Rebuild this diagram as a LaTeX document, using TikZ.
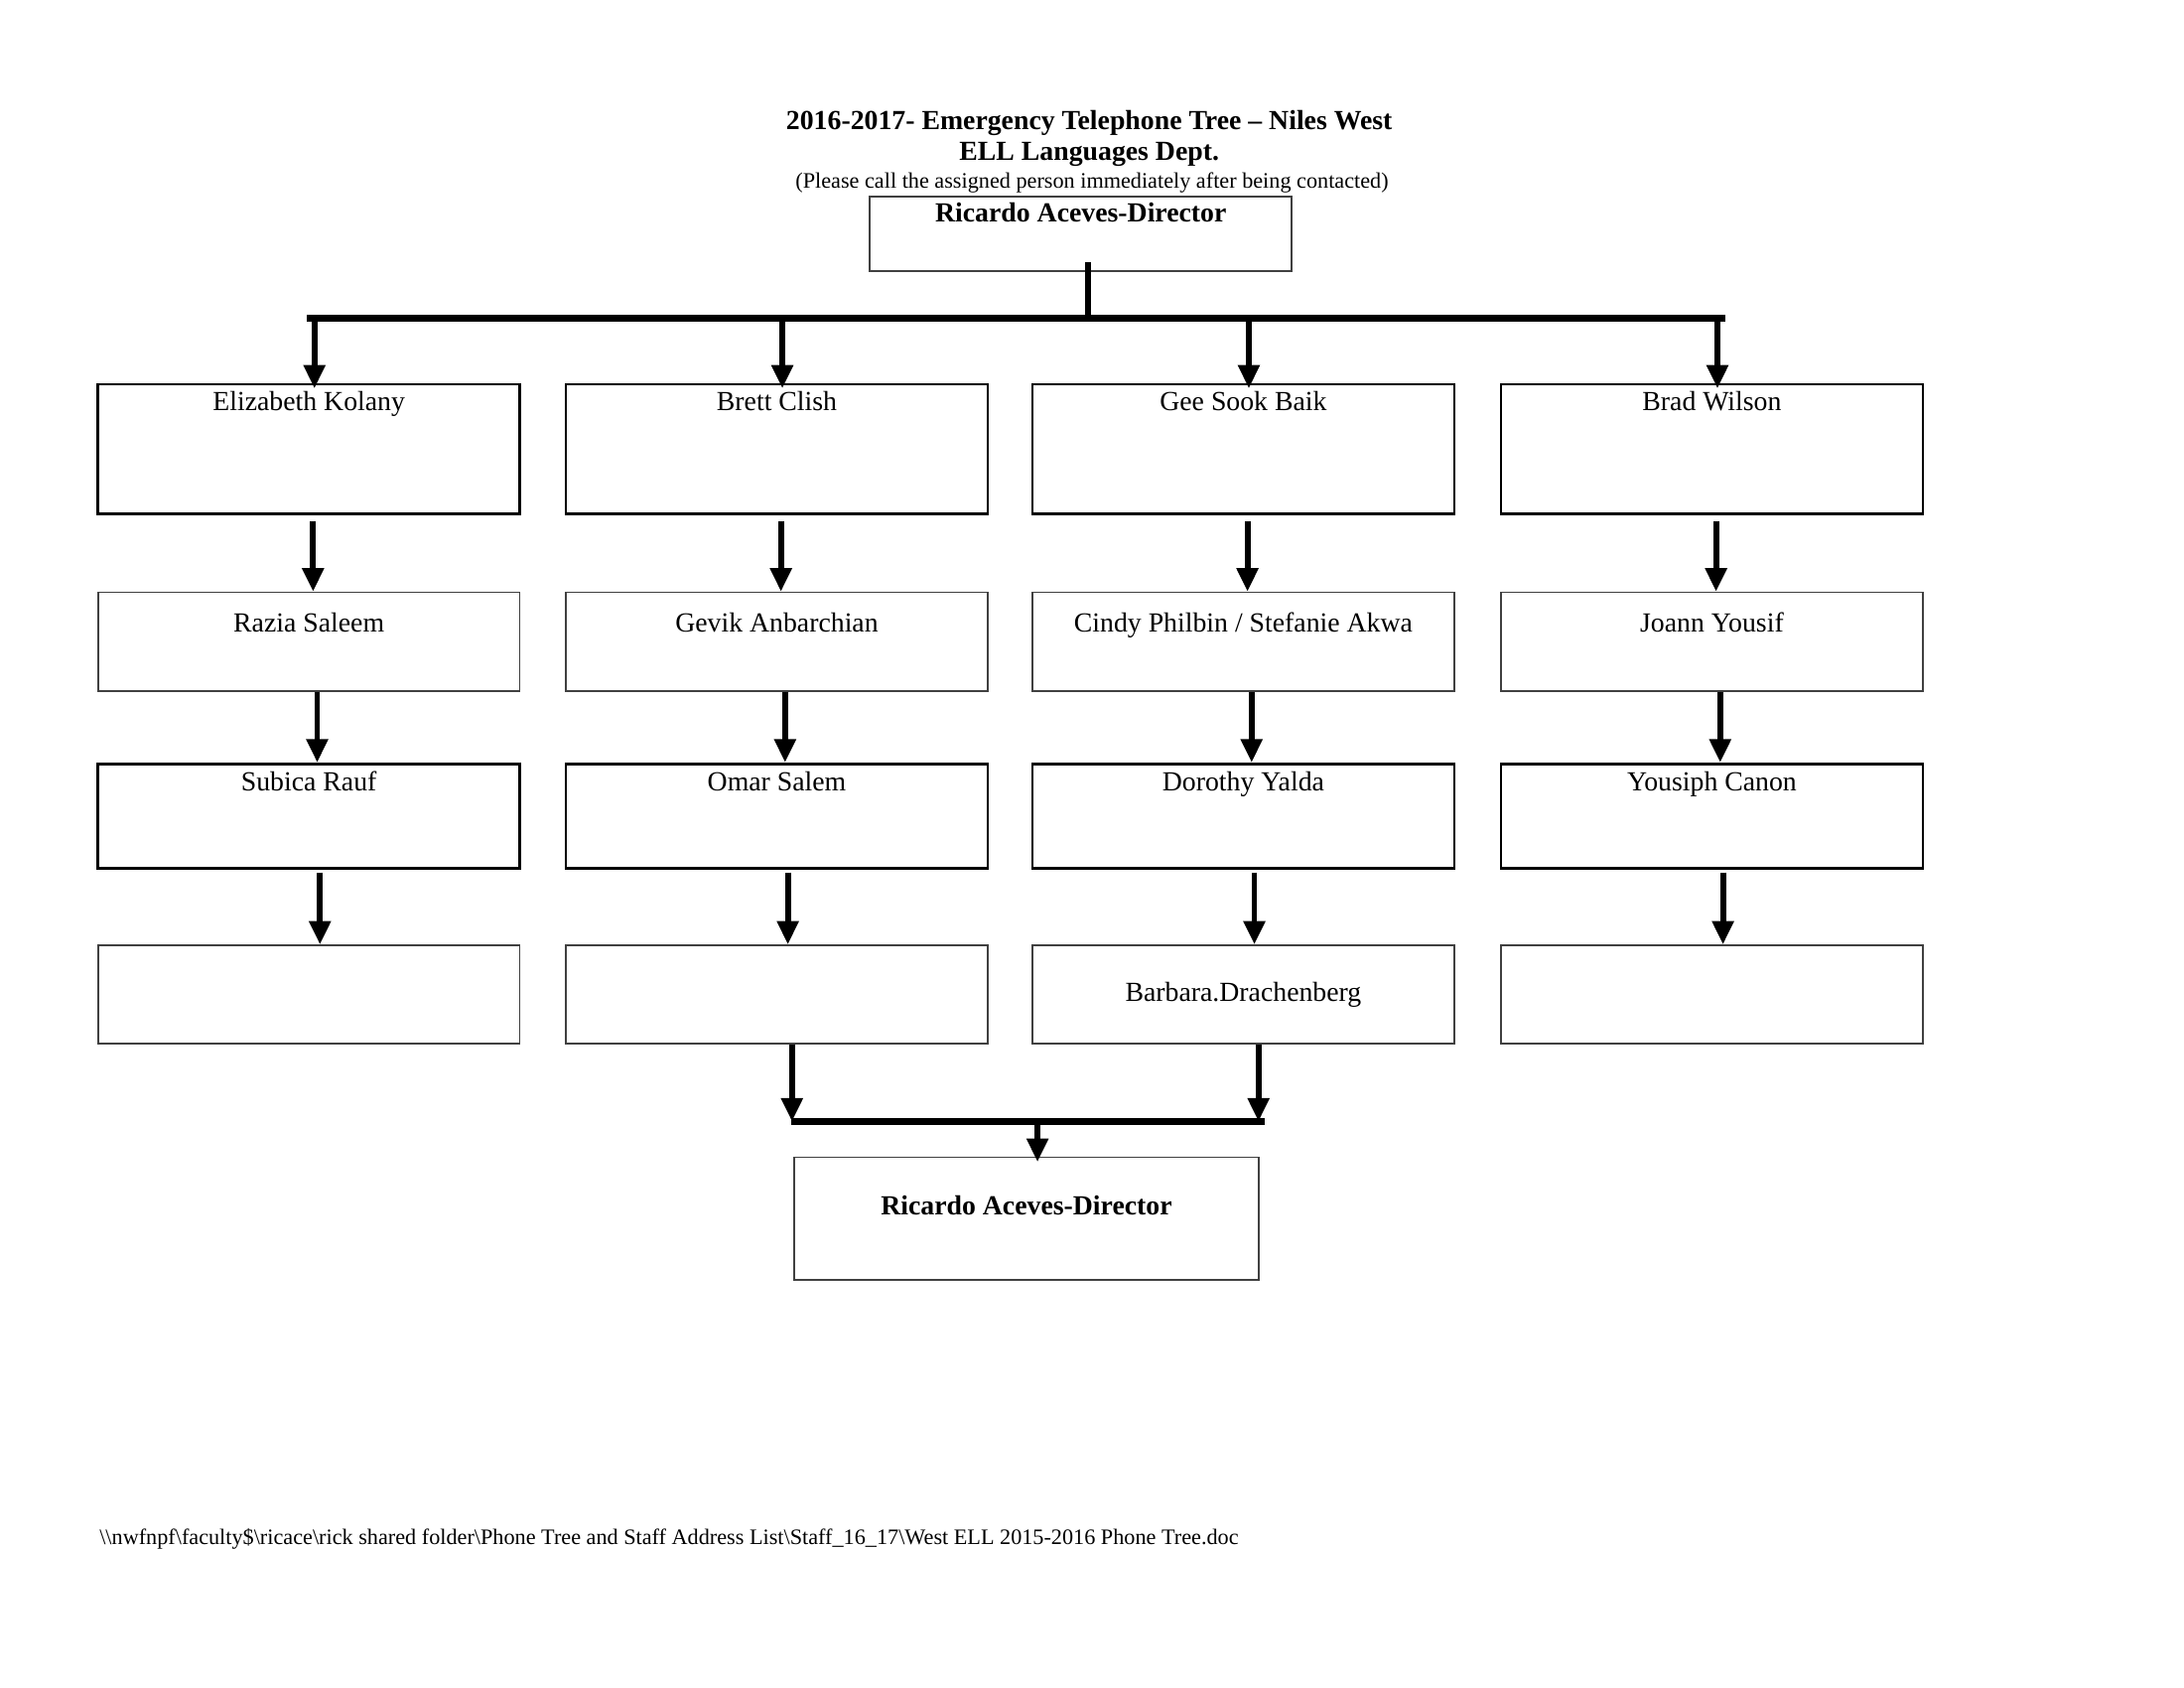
\documentclass[tikz,border=0pt]{standalone}
\usepackage{fontspec}
\setmainfont{Liberation Serif}
\usepackage{tikz}
\usetikzlibrary{arrows.meta}
\tikzset{
  box/.style = {draw, line width=1pt, minimum width=153pt, inner sep=0, font=\fontsize{10}{12}\selectfont},
  thinbox/.style = {draw=black!75, line width=0.6pt, minimum width=153pt, inner sep=0, font=\fontsize{10}{12}\selectfont},
  nametext/.style = {anchor=north, inner sep=3pt, font=\fontsize{10}{12}\selectfont},
  arr/.style = {-{Triangle[width=7.5pt,length=8.5pt]}, line width=2.1pt},
  bus/.style = {line width=2.3pt}
}

\begin{document}
\begin{tikzpicture}[x=0.5058pt, y=-0.5058pt]
    \useasboundingbox (0, 0) rectangle (1566, 1210);

    % heading
    \node [font=\fontsize{10}{12}\selectfont\bfseries] (title) at (781, 88) {2016-2017- Emergency Telephone Tree -- Niles West};
    \node [font=\fontsize{10}{12}\selectfont\bfseries] (dept) at (781, 111) {ELL Languages Dept.};
    \node [font=\fontsize{8}{10}\selectfont] (note) at (783, 131) {(Please call the assigned person immediately after being contacted)};

    \node [thinbox, minimum height=27pt, label={[nametext, inner sep=2.5pt, font=\fontsize{10}{12}\selectfont\bfseries]north:Ricardo Aceves-Director}] (dir) at (775, 167.5) {};

    % first row
    \node [box, minimum height=47pt, label={[nametext]north:Elizabeth Kolany}] (a1) at (221.5, 322) {};
    \node [box, minimum height=47pt, label={[nametext]north:Brett Clish}] (b1) at (557, 322) {};
    \node [box, minimum height=47pt, label={[nametext]north:Gee Sook Baik}] (c1) at (891.5, 322) {};
    \node [box, minimum height=47pt, label={[nametext]north:Brad Wilson}] (d1) at (1227.5, 322) {};

    % second row
    \node [thinbox, minimum height=35.7pt, label={[nametext, inner sep=7.5pt]north:Razia Saleem}] (a2) at (221.5, 460) {};
    \node [thinbox, minimum height=35.7pt, label={[nametext, inner sep=7.5pt]north:Gevik Anbarchian}] (b2) at (557, 460) {};
    \node [thinbox, minimum height=35.7pt, label={[nametext, inner sep=7.5pt]north:Cindy Philbin / Stefanie Akwa}] (c2) at (891.5, 460) {};
    \node [thinbox, minimum height=35.7pt, label={[nametext, inner sep=7.5pt]north:Joann Yousif}] (d2) at (1227.5, 460) {};

    % third row
    \node [box, minimum height=37.8pt, label={[nametext]north:Subica Rauf}] (a3) at (221.5, 585) {};
    \node [box, minimum height=37.8pt, label={[nametext]north:Omar Salem}] (b3) at (557, 585) {};
    \node [box, minimum height=37.8pt, label={[nametext]north:Dorothy Yalda}] (c3) at (891.5, 585) {};
    \node [box, minimum height=37.8pt, label={[nametext]north:Yousiph Canon}] (d3) at (1227.5, 585) {};

    % fourth row
    \node [thinbox, minimum height=35.7pt] (a4) at (221.5, 713) {};
    \node [thinbox, minimum height=35.7pt] (b4) at (557, 713) {};
    \node [thinbox, minimum height=35.7pt] (c4) at (891.5, 713) {Barbara.Drachenberg};
    \node [thinbox, minimum height=35.7pt] (d4) at (1227.5, 713) {};

    \node [thinbox, minimum width=168.4pt, minimum height=44.4pt, label={[nametext, inner sep=14pt, font=\fontsize{10}{12}\selectfont\bfseries]north:Ricardo Aceves-Director}] (back) at (736, 873.5) {};

    % top bus
    \coordinate (topL) at (220, 228);
    \coordinate (topR) at (1237, 228);
    \draw [bus] (topL) -- (topR);
    \draw [bus] ([xshift=2.5pt, yshift=3.5pt]dir.south) -- ([xshift=2.5pt]dir.south |- topL);
    \foreach \c in {a, b, c, d}
      \draw [arr] ([xshift=2pt]\c1.north |- topL) -- ([xshift=2pt, yshift=-2pt]\c1.north);

    % down the columns
    \foreach \c in {a, b, c, d} {
      \draw [arr] ([xshift=1.5pt, yshift=-2pt]\c1.south) -- ([xshift=1.5pt]\c2.north);
      \draw [arr] ([xshift=3pt]\c2.south) -- ([xshift=3pt]\c3.north);
      \draw [arr] ([xshift=4pt, yshift=-1pt]\c3.south) -- ([xshift=4pt]\c4.north);
    }

    % back to the director
    \coordinate (botL) at (567, 804);
    \coordinate (botR) at (907, 804);
    \draw [arr] ([xshift=5.5pt]b4.south) -- ([xshift=5.5pt]b4.south |- botL);
    \draw [arr] ([xshift=5.5pt]c4.south) -- ([xshift=5.5pt]c4.south |- botL);
    \draw [bus] (botL) -- (botR);
    \draw [arr] ([xshift=4pt]back.north |- botL) -- ([xshift=4pt, yshift=-2pt]back.north);

    \node [anchor=west, inner sep=0, font=\fontsize{8}{10}\selectfont] (path) at (71, 1103) {\textbackslash\textbackslash nwfnpf\textbackslash faculty\$\textbackslash ricace\textbackslash rick shared folder\textbackslash Phone Tree and Staff Address List\textbackslash Staff\_16\_17\textbackslash West ELL 2015-2016 Phone Tree.doc};
\end{tikzpicture}
\end{document}
